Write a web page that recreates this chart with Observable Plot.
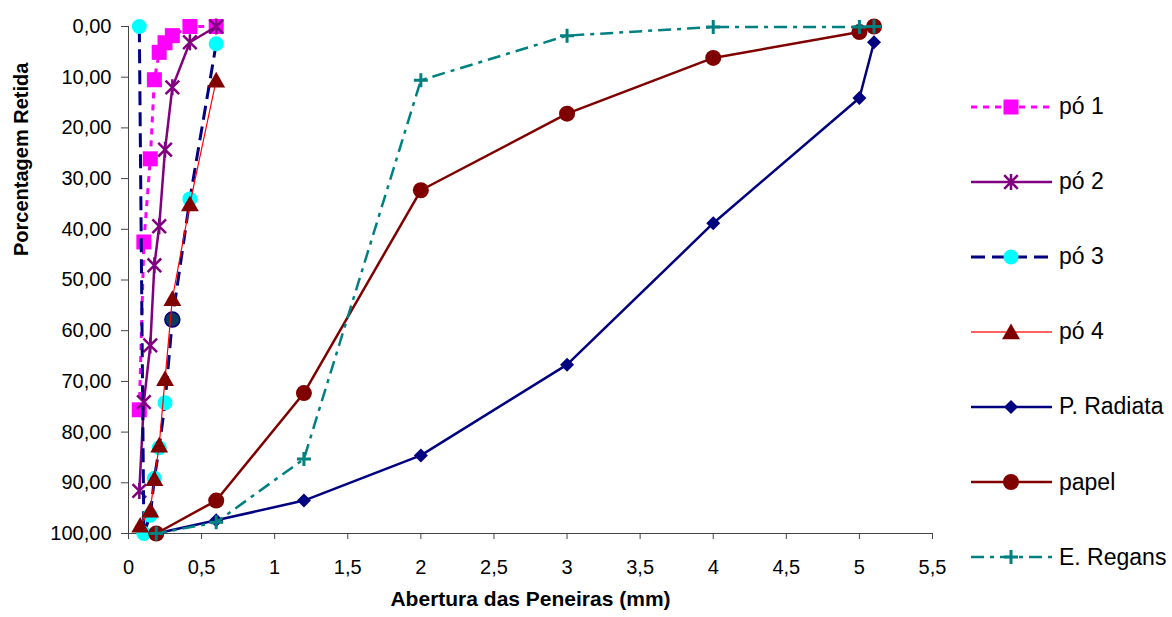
<!DOCTYPE html>
<html>
<head>
<meta charset="utf-8">
<script src="https://cdn.jsdelivr.net/npm/d3@7"></script>
<script src="https://cdn.jsdelivr.net/npm/@observablehq/plot@0.6"></script>
<style>
  body { margin: 0; background: #fff; font-family: "Liberation Sans", Arial, sans-serif; }
  #wrap { position: relative; width: 1172px; height: 617px; overflow: hidden; }
  #legend { position: absolute; left: 0; top: 0; }
  .item { position: absolute; left: 970px; display: flex; align-items: center; font-size: 23px; color: #000; white-space: nowrap; }
  .item svg { display: block; margin-right: 5px; }
</style>
</head>
<body>
<div id="wrap"><div id="chart"></div><div id="legend"></div></div>
<script>
// Sieve openings (mm) and retained percentage per material
const seriesNames = ["pó 1", "pó 2", "pó 3", "pó 4", "P. Radiata", "papel", "E. Regans"];
const powderSieves = [0.6, 0.42, 0.3, 0.25, 0.21, 0.177, 0.149, 0.105, 0.074];
const po1 = [0, 0, 1.8, 3.2, 5.1, 10.5, 26.1, 42.5, 75.6];
const po2 = [0, 3.1, 12.0, 24.3, 39.4, 47.1, 62.9, 74.1, 91.6];
const po3 = [3.4, 34.0, 57.8, 74.2, 83.1, 89.1, 96.4, 100, 0];
const po4Sieves = [0.6, 0.42, 0.3, 0.25, 0.21, 0.177, 0.149, 0.08];
const po4 = [10.6, 35.0, 53.7, 69.5, 82.6, 89.2, 95.4, 98.4];
const coarseSieves = [5.1, 5.0, 4.0, 3.0, 2.0, 1.2, 0.6, 0.19];
const radiata = [3.1, 14.1, 38.8, 66.7, 84.6, 93.5, 97.4, 100];
const papel = [0, 1.1, 6.2, 17.2, 32.3, 72.3, 93.5, 100];
const regans = [0, 0.1, 0.1, 1.8, 10.6, 85.3, 97.8, 100];
const xTicks = [0, 0.5, 1, 1.5, 2, 2.5, 3, 3.5, 4, 4.5, 5, 5.5];
const yTicks = [0, 10, 20, 30, 40, 50, 60, 70, 80, 90, 100];

const rows = (xs, ys, name) => xs.map((x, i) => ({x, y: ys[i], i, name}));
const data = [
  rows(powderSieves, po1, seriesNames[0]),
  rows(powderSieves, po2, seriesNames[1]),
  rows(powderSieves, po3, seriesNames[2]),
  rows(po4Sieves, po4, seriesNames[3]),
  rows(coarseSieves, radiata, seriesNames[4]),
  rows(coarseSieves, papel, seriesNames[5]),
  rows(coarseSieves, regans, seriesNames[6])
];

// Marker shapes; size = PI * r^2, so r is the half-size of each glyph
const half = size => Math.sqrt(size / Math.PI);
const square = {draw(c, s) { const r = half(s); c.rect(-r, -r, 2 * r, 2 * r); }};
const triangle = {draw(c, s) { const r = half(s); c.moveTo(0, -r); c.lineTo(r * 1.05, r * 0.85); c.lineTo(-r * 1.05, r * 0.85); c.closePath(); }};
const diamond = {draw(c, s) { const r = half(s); c.moveTo(0, -r); c.lineTo(r, 0); c.lineTo(0, r); c.lineTo(-r, 0); c.closePath(); }};
const circle = {draw(c, s) { const r = half(s); c.moveTo(r, 0); c.arc(0, 0, r, 0, 2 * Math.PI); }};
const asterisk = {draw(c, s) { const r = half(s), d = r * 0.85;
  c.moveTo(-d, -d); c.lineTo(d, d); c.moveTo(d, -d); c.lineTo(-d, d); c.moveTo(0, -r); c.lineTo(0, r); }};
const plus = {draw(c, s) { const r = half(s); c.moveTo(-r, 0); c.lineTo(r, 0); c.moveTo(0, -r); c.lineTo(0, r); }};

const styles = [
  {stroke: "#ff00ff", width: 3, dash: "6,6", symbol: square, r: 7.5, fill: "#ff00ff"},
  {stroke: "#800080", width: 2.5, dash: null, symbol: asterisk, r: 8, fill: "none", mstroke: "#800080", mwidth: 2.5},
  {stroke: "#000080", width: 3, dash: "14,7", symbol: circle, r: 7.5, fill: "#00ffff"},
  {stroke: "#ff0000", width: 1.2, dash: null, symbol: triangle, r: 8.5, fill: "#800000"},
  {stroke: "#000080", width: 2.5, dash: null, symbol: diamond, r: 7, fill: "#000080"},
  {stroke: "#800000", width: 2.5, dash: null, symbol: circle, r: 8, fill: "#800000"},
  {stroke: "#008080", width: 2.5, dash: "13,6,4,6", symbol: plus, r: 7, fill: "none", mstroke: "#008080", mwidth: 3}
];

const fmtY = d => d.toFixed(2).replace(".", ",");
const fmtX = d => String(d).replace(".", ",");

const marks = [
  Plot.ruleX([0], {stroke: "#444"}),
  Plot.ruleY([100], {stroke: "#444"})
];
data.forEach((rowsOf, k) => {
  const s = styles[k];
  marks.push(Plot.line(rowsOf, {
    x: "x", y: "y", stroke: s.stroke, strokeWidth: s.width,
    strokeDasharray: s.dash, strokeLinecap: s.dash ? "butt" : "round"
  }));
  if (k === 2) {
    // one pó 3 reading is drawn with a dark filled marker
    marks.push(Plot.dot(rowsOf, {x: "x", y: "y", symbol: s.symbol, r: s.r, fill: s.fill, filter: d => d.i !== 2}));
    marks.push(Plot.dot(rowsOf, {x: "x", y: "y", symbol: s.symbol, r: s.r, fill: "#0b3a5e", stroke: "#000080", strokeWidth: 1.5, filter: d => d.i === 2}));
  } else {
    marks.push(Plot.dot(rowsOf, {
      x: "x", y: "y", symbol: s.symbol, r: s.r, fill: s.fill,
      stroke: s.mstroke || "none", strokeWidth: s.mwidth || 1, strokeLinecap: "butt"
    }));
  }
});
marks.push(
  Plot.axisX({ticks: xTicks, tickFormat: fmtX, tickSize: 6, tickPadding: 20, stroke: "#444", fill: "#000", fontSize: 20, label: null}),
  Plot.axisY({ticks: yTicks, tickFormat: fmtY, tickSize: 7, tickPadding: 10, stroke: "#444", fill: "#000", fontSize: 20, label: null}),
  Plot.text(["Porcentagem Retida"], {frameAnchor: "left", rotate: -90, dx: -107, dy: -24, fontWeight: "bold", fontSize: 20, fill: "#000"}),
  Plot.text(["Abertura das Peneiras (mm)"], {frameAnchor: "bottom", dy: 72, fontWeight: "bold", fontSize: 21, fill: "#000"})
);

const chart = Plot.plot({
  width: 1172,
  height: 617,
  marginLeft: 128,
  marginRight: 240,
  marginTop: 26,
  marginBottom: 84,
  style: {fontFamily: "'Liberation Sans', Arial, sans-serif", background: "#fff", overflow: "visible"},
  x: {domain: [0, 5.5]},
  y: {domain: [0, 100], reverse: true},
  marks
});
document.getElementById("chart").append(chart);

// Legend: line sample with its marker, then the series name
const legend = d3.select("#legend");
const legendTop = 106.5, legendStep = 75.1;
seriesNames.forEach((name, k) => {
  const s = styles[k];
  const item = legend.append("div").attr("class", "item")
    .style("top", (legendTop + k * legendStep - 15) + "px").style("height", "30px");
  const svg = item.append("svg").attr("width", 84).attr("height", 30);
  svg.append("line").attr("x1", 1).attr("x2", 82).attr("y1", 15).attr("y2", 15)
    .attr("stroke", k === 3 ? "#ff6060" : s.stroke).attr("stroke-width", k === 3 ? 2 : s.width)
    .attr("stroke-dasharray", s.dash);
  svg.append("path").attr("transform", "translate(41,15)")
    .attr("d", d3.symbol(s.symbol, Math.PI * s.r * s.r)())
    .attr("fill", s.fill).attr("stroke", s.mstroke || "none").attr("stroke-width", s.mwidth || 0);
  item.append("span").text(name);
});
</script>
</body>
</html>
